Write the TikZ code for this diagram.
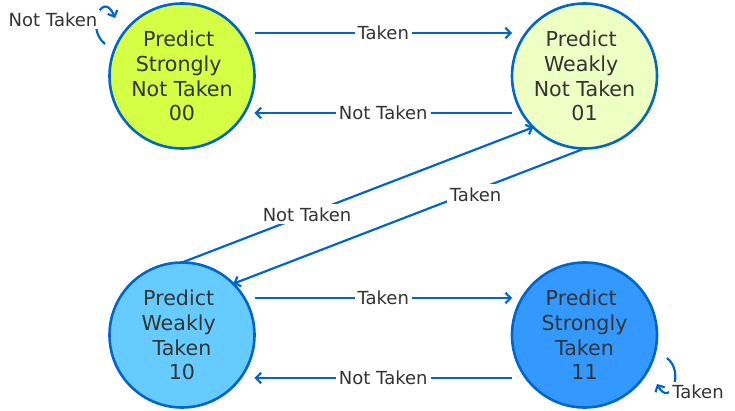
\documentclass[tikz,border=0pt]{standalone}
\usepackage{fontspec}
\setmainfont{DejaVu Sans}
\usetikzlibrary{arrows.meta,automata,calc}
\usetikzlibrary{positioning}
\definecolor{edgeblue}{HTML}{0066CC}
\definecolor{textgrey}{HTML}{333333}
\definecolor{snt}{HTML}{D4FF44}
\definecolor{wnt}{HTML}{EEFFC4}
\definecolor{wt}{HTML}{66CCFF}
\definecolor{st}{HTML}{3399FF}
\newcommand{\trail}{\kern.32em}
\tikzstyle{line} = [draw=edgeblue, line width=2.2pt, ->]
\tikzstyle{lbl} = [fill=white, text=textgrey, inner sep=3pt, font=\fontsize{18}{21}\selectfont]

\begin{document}
\begin{tikzpicture}[
            > = {Straight Barb[length=5pt,width=10.5pt]}, % arrow head style
            x = 1pt, y = 1pt, % one unit per pixel
            node distance = 257.5pt % gap between the circles
        ]

        \tikzstyle{every state}=[
            draw = edgeblue,
            line width = 2.6pt,
            outer sep = 0pt,
            text = textgrey,
            minimum size = 145pt,
            inner sep = 0pt,
            align = center,
            font = \fontsize{20.6}{24.7}\selectfont
        ]

        \useasboundingbox (0,0) rectangle (735,410);

        \node[state, fill=snt] (s00) at (182,334) {Predict\trail\\Strongly\trail\\Not Taken\\00};
        \node[state, fill=wnt] (s01) [right=of s00] {Predict\trail\\Weakly\trail\\Not Taken\\01};
        \node[state, fill=wt] (s10) [below=114pt of s00] {Predict\trail\\Weakly\trail\\Taken\\10};
        \node[state, fill=st] (s11) [right=of s10] {Predict\trail\\Strongly\\Taken\\11};

        \path[line] ([yshift=43pt]s00.east) -- node[lbl] (t0001) {Taken} ([yshift=43pt]s01.west);
        \path[line] ([yshift=-37pt]s01.west) -- node[lbl] (n0100) {Not Taken} ([yshift=-37pt]s00.east);
        \path[line] ([yshift=37pt]s10.east) -- node[lbl] (t1011) {Taken} ([yshift=37pt]s11.west);
        \path[line] ([yshift=-43pt]s11.west) -- node[lbl] (n1110) {Not Taken} ([yshift=-43pt]s10.east);
        \path[line] (s10.north) -- node[lbl, pos=.356] (n1001) {Not Taken} (s01.225);
        \path[line] (s01.south) -- node[lbl, pos=.31, yshift=-4pt] (t0110) {Taken} (s10.45);

        % self loops
        \coordinate (l00a) at ($(s00)+(-77,32)$);
        \coordinate (l00b) at ($(s00)+(-67,58)$);
        \coordinate (l11a) at ($(s11)+(82.5,-23)$);
        \coordinate (l11b) at ($(s11)+(72.5,-49)$);
        \path[line] (l00a) .. controls +(-20,16) and +(-12,29) .. (l00b);
        \node[lbl] (n0000) at (53,390.5) {Not Taken};
        \path[line] (l11a) .. controls +(18,-14) and +(13,-24) .. (l11b);
        \node[lbl] (t1111) at (698,18.5) {Taken};

    \end{tikzpicture}
\end{document}
